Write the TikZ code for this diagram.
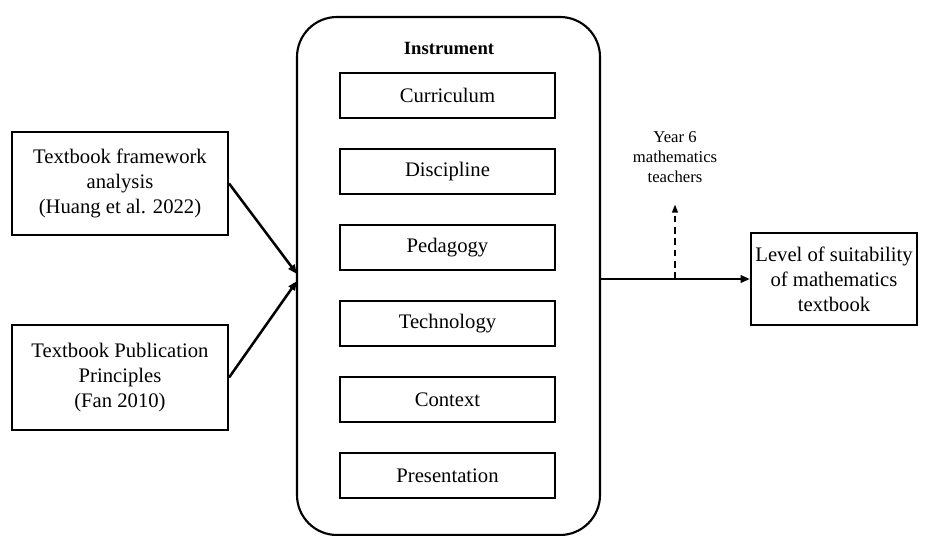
\documentclass[tikz,border=0pt]{standalone}
\usepackage{fontspec}
\setmainfont{Liberation Serif}
\usetikzlibrary{arrows.meta}

\tikzset{
  framebox/.style={draw, line width=1.6pt, align=center, inner sep=0pt,
    font=\fontsize{15.5}{18.75}\selectfont},
  factorbox/.style={framebox, minimum width=161.25pt, minimum height=33.75pt},
  flow/.style={line width=1.9pt, -{Triangle[length=7pt,width=5.5pt]}}
}

\begin{document}
\begin{tikzpicture}[x=0.75pt,y=-0.75pt]
  % Frame
  \useasboundingbox (0,0) rectangle (926,536);

  % Instrument
  \node[draw, line width=1.6pt, rounded corners=30pt, minimum width=227.25pt,
    minimum height=388.5pt] (instr) at (448.5,276) {};
  \node[font=\fontsize{14}{16}\selectfont\bfseries] (title) at (449,48) {Instrument};

  % Components
  \node[factorbox] (curr) at (447.5,95.5) {Curriculum};
  \node[factorbox] (disc) at (447.5,171.5) {Discipline};
  \node[factorbox] (peda) at (447.5,247.5) {Pedagogy};
  \node[factorbox] (tech) at (447.5,323.5) {Technology};
  \node[factorbox] (cont) at (447.5,399.5) {Context};
  \node[factorbox] (pres) at (447.5,475.5) {Presentation};

  % Sources
  \node[framebox, minimum width=162pt, minimum height=77.25pt] (huang) at (120,183.5)
    {Textbook framework\\analysis\\(Huang et al. 2022)};
  \node[framebox, minimum width=162pt, minimum height=78.75pt] (fan) at (120,377.5)
    {Textbook Publication\\Principles\\(Fan 2010)};

  % Outcome
  \node[framebox, minimum width=124.5pt, minimum height=69pt] (level) at (834,279)
    {Level of suitability\\of mathematics\\textbook};

  % Inputs
  \coordinate (in1) at (297,274);
  \coordinate (in2) at (297,281);
  \draw[flow] (huang.east) -- (in1);
  \draw[flow] (fan.east) -- (in2);

  % Output
  \coordinate (out) at (instr.east |- level.west);
  \draw[flow] (out) -- (level.west);

  % Teachers
  \node[align=center, font=\fontsize{12.5}{15}\selectfont] (teach) at (675,157)
    {Year 6\\mathematics\\teachers};
  \coordinate (tch) at (675,279);
  \draw[line width=1pt, dash pattern=on 5pt off 3.5pt, -{Triangle[length=6pt,width=4.5pt]},
    shorten >=13pt] (tch) -- (teach.south);
\end{tikzpicture}
\end{document}
